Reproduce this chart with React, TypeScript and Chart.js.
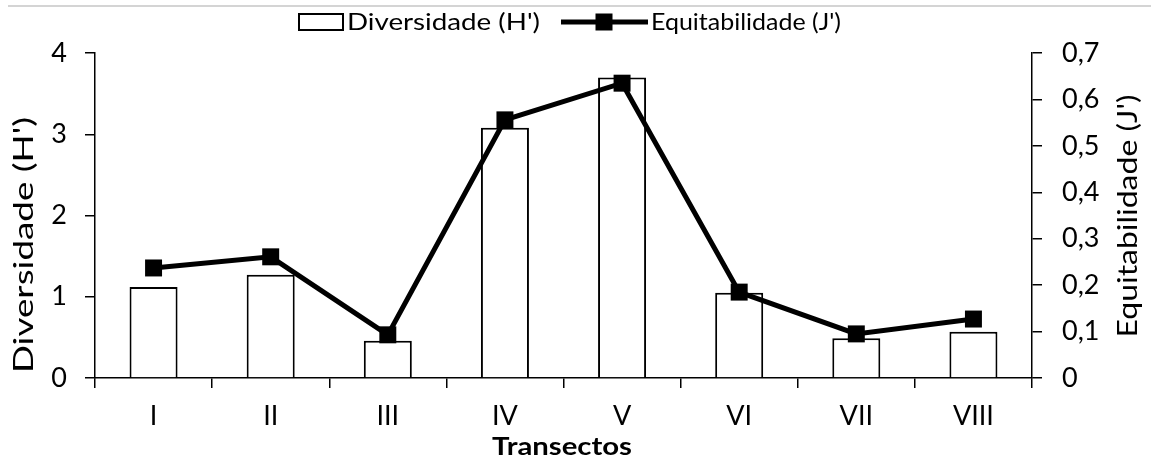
import React, { useEffect, useRef } from "react";
import { Chart, registerables } from "chart.js";

Chart.register(...registerables);

const categories = ["I", "II", "III", "IV", "V", "VI", "VII", "VIII"];
const diversidade = [1.12, 1.27, 0.46, 3.08, 3.7, 1.05, 0.49, 0.57];
const equitabilidade = [0.237, 0.261, 0.093, 0.556, 0.635, 0.185, 0.095, 0.127];
const seriesLabels = ["Diversidade (H')", "Equitabilidade (J')"];
const xTitle = "Transectos";
const leftTitle = "Diversidade (H')";
const rightTitle = "Equitabilidade (J')";

const FONT = "Lato, 'Open Sans', sans-serif";

function drawStretched(
  ctx: CanvasRenderingContext2D,
  text: string,
  cx: number,
  cy: number,
  size: number,
  targetLen: number,
  rotate: boolean,
  bold: boolean,
  align: "center" | "left" = "center"
) {
  ctx.save();
  ctx.translate(cx, cy);
  if (rotate) ctx.rotate(-Math.PI / 2);
  ctx.font = `${bold ? "bold " : ""}${size}px ${FONT}`;
  const w = ctx.measureText(text).width;
  ctx.scale(targetLen / w, 1);
  ctx.textAlign = align;
  ctx.textBaseline = "alphabetic";
  ctx.fillStyle = "#000";
  ctx.fillText(text, 0, size * 0.72 * 0.5);
  ctx.restore();
}

const overlay = {
  id: "overlay",
  afterDraw(chart: any) {
    const ctx: CanvasRenderingContext2D = chart.ctx;
    ctx.save();
    // faint rule at top of the figure
    ctx.strokeStyle = "#d4d4d4";
    ctx.lineWidth = 2;
    ctx.beginPath();
    ctx.moveTo(8, 6);
    ctx.lineTo(1151, 6);
    ctx.stroke();

    // legend: bar swatch
    ctx.fillStyle = "#fff";
    ctx.strokeStyle = "#000";
    ctx.lineWidth = 2;
    ctx.fillRect(299, 14, 44, 16);
    ctx.strokeRect(299, 14, 44, 16);
    drawStretched(ctx, seriesLabels[0], 347, 22, 23, 193, false, false, "left");

    // legend: line swatch
    ctx.strokeStyle = "#000";
    ctx.lineWidth = 5;
    ctx.beginPath();
    ctx.moveTo(561, 22);
    ctx.lineTo(648, 22);
    ctx.stroke();
    ctx.fillStyle = "#000";
    ctx.fillRect(604 - 8.5, 22 - 8.5, 17, 17);
    drawStretched(ctx, seriesLabels[1], 651, 22, 23, 190, false, false, "left");

    // axis titles
    drawStretched(ctx, leftTitle, 24, 245, 26, 256, true, false);
    drawStretched(ctx, rightTitle, 1128, 216, 26, 243, true, false);
    drawStretched(ctx, xTitle, 562, 446, 24, 140, false, true);
    ctx.restore();
  },
};

function fmt(v: number) {
  const r = Math.round(v * 10) / 10;
  return String(r).replace(".", ",");
}

export default function App() {
  const ref = useRef<HTMLCanvasElement | null>(null);

  useEffect(() => {
    if (!ref.current) return;
    const tickFont = { family: FONT, size: 27 };
    const chart = new Chart(ref.current, {
      type: "bar",
      data: {
        labels: categories,
        datasets: [
          {
            type: "line",
            label: seriesLabels[1],
            data: equitabilidade,
            yAxisID: "y1",
            borderColor: "#000",
            backgroundColor: "#000",
            borderWidth: 5,
            pointStyle: "rect",
            pointRadius: 12,
            pointHoverRadius: 12,
            pointBackgroundColor: "#000",
            pointBorderColor: "#000",
            pointBorderWidth: 0,
            tension: 0,
            fill: false,
            order: 0,
          } as any,
          {
            type: "bar",
            label: seriesLabels[0],
            data: diversidade,
            yAxisID: "y",
            backgroundColor: "#fff",
            borderColor: "#000",
            borderWidth: 2,
            categoryPercentage: 1,
            barPercentage: 0.41,
            order: 1,
          } as any,
        ],
      },
      options: {
        responsive: false,
        animation: false,
        layout: { padding: { top: 53, left: 0, right: 0, bottom: 0 } },
        plugins: {
          legend: { display: false },
          tooltip: { enabled: false },
          title: { display: false },
        },
        scales: {
          x: {
            offset: true,
            grid: {
              offset: true,
              drawOnChartArea: false,
              color: "#000",
              lineWidth: 1.5,
              tickLength: 10,
            },
            border: { color: "#000", width: 1.5 },
            ticks: {
              color: "#000",
              font: tickFont,
              padding: 12,
              maxRotation: 0,
              autoSkip: false,
            },
            afterFit: (s: any) => {
              s.height = 85;
            },
          },
          y: {
            position: "left",
            min: 0,
            max: 4,
            grid: {
              drawOnChartArea: false,
              color: "#000",
              lineWidth: 1.5,
              tickLength: 10,
            },
            border: { color: "#000", width: 1.5 },
            ticks: {
              stepSize: 1,
              color: "#000",
              font: tickFont,
              padding: 18,
            },
            afterFit: (s: any) => {
              s.width = 95;
            },
          },
          y1: {
            position: "right",
            min: 0,
            max: 0.7,
            grid: {
              drawOnChartArea: false,
              color: "#000",
              lineWidth: 1.5,
              tickLength: 10,
            },
            border: { color: "#000", width: 1.5 },
            ticks: {
              stepSize: 0.1,
              color: "#000",
              font: tickFont,
              padding: 20,
              callback: (v: any) => fmt(Number(v)),
            },
            afterFit: (s: any) => {
              s.width = 119;
            },
          },
        },
      } as any,
      plugins: [overlay],
    });
    return () => chart.destroy();
  }, []);

  return (
    <div style={{ position: "absolute", left: 0, top: 0, width: 1151, height: 463, background: "#fff" }}>
      <canvas ref={ref} width={1151} height={463} style={{ display: "block" }} />
    </div>
  );
}
